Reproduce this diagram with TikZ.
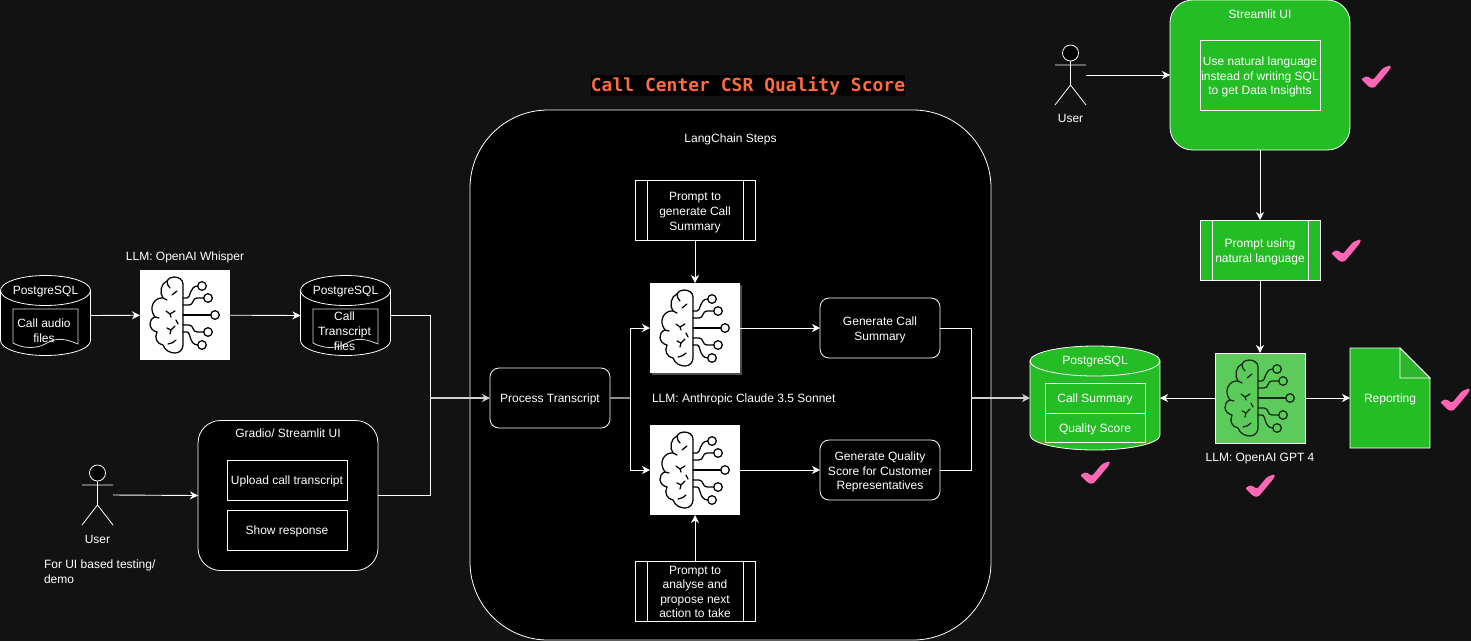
\documentclass[tikz,border=0pt]{standalone}
\usepackage{fontspec}
\setmainfont{Liberation Sans}
\newfontfamily\titlefont{DejaVu Sans Mono}
\usetikzlibrary{calc, arrows.meta, positioning, shadows}
\definecolor{pagebg}{HTML}{121212}
\definecolor{okgreen}{HTML}{25BD25}
\definecolor{okfold}{HTML}{2DB42D}
\definecolor{iconbg}{HTML}{5CCB5C}
\definecolor{tickpink}{HTML}{FF66B5}
\definecolor{titleorange}{HTML}{FF6B3D}
\newcommand{\lift}{\rule{0pt}{13.5pt}}
\newcommand{\drumshape}[3]{%
  \draw[white, line width=0.8pt, fill=#3] ($(#1.north west)+(0,15)$) arc[start angle=180, end angle=360, x radius=#2, y radius=15]
    -- ($(#1.south east)+(0,-15)$) arc[start angle=0, end angle=180, x radius=#2, y radius=15] -- cycle;
  \draw[white, line width=0.8pt] ($(#1.north west)+(0,15)$) arc[start angle=180, end angle=0, x radius=#2, y radius=15];}
\tikzset{
  every node/.style={font=\fontsize{12}{15}\selectfont, text=white, align=center, inner sep=0pt, outer sep=0pt,
    execute at begin node={\rule{0pt}{12pt}}, execute at end node={\rule[-3.4pt]{0pt}{0pt}}},
  flow/.style={draw=white, line width=0.9pt, -{Stealth[length=8pt,width=8pt,inset=2.5pt]}},
  wire/.style={draw=white, line width=0.9pt},
  flowgray/.style={flow, draw=white!82!black, line width=1.2pt},
  plainbox/.style={draw=white, fill=black, line width=0.8pt, minimum width=120pt, minimum height=60pt},
  softbox/.style={plainbox, rounded corners=9pt},
  uibox/.style={draw=white, fill=black, line width=0.8pt, rounded corners=22.5pt, minimum width=180pt, minimum height=150pt},
  promptbox/.style={plainbox, path picture={
    \draw[white, line width=0.8pt] ([xshift=12pt]path picture bounding box.north west) -- ([xshift=12pt]path picture bounding box.south west);
    \draw[white, line width=0.8pt] ([xshift=-12pt]path picture bounding box.north east) -- ([xshift=-12pt]path picture bounding box.south east);}},
  brainbox/.style={fill=white, minimum width=90pt, minimum height=90pt},
  drumbox/.style={minimum width=90pt, minimum height=80pt},
  rowbox/.style={draw=white, fill=okgreen, line width=0.8pt, minimum width=100pt, minimum height=29.5pt},
  actorbox/.style={minimum width=31pt, minimum height=60pt},
  pics/brainicon/.style={code={
    \begin{scope}[line width=1.25pt, line cap=round, line join=round, draw=#1]
      \draw (43,14) .. controls (43,9) and (38,7) .. (34,7) .. controls (31,7) and (29,8) .. (27,11)
        .. controls (21,13) and (19,23) .. (23,28)
        .. controls (14,27) and (8,38) .. (15,47)
        .. controls (8,49) and (8,60) .. (17,62)
        .. controls (14,68) and (17,74) .. (23,75)
        .. controls (25,81) and (31,83) .. (35,83) .. controls (40,83) and (43,79) .. (43,75) -- cycle;
      \draw (27,11) .. controls (27,14) and (28,16) .. (30,18);
      \draw (23,28) -- (27,30);
      \draw (32,25) -- (37,21);
      \draw (26,41) -- (30,44) -- (35,41) (30,44) -- (31,47);
      \draw (36,50) -- (38,54);
      \draw (27,58) -- (31,60) -- (35,56) (31,60) -- (30,64);
      \draw (28,74) .. controls (31,74) and (34,72) .. (36,70);
      \draw (15,47) -- (19,48);
      \draw (43,45) -- (71,45);
      \draw (43,35) -- (49,35) .. controls (54,35) and (52,28) .. (57,28) -- (64,28);
      \draw (43,28) -- (47,28) .. controls (51,28) and (49,16) .. (58,16);
      \draw (43,55) -- (49,55) .. controls (54,55) and (52,62) .. (57,62) -- (64,62);
      \draw (43,62) -- (47,62) .. controls (51,62) and (49,75) .. (58,75);
      \draw (62,16) circle (4.3) (68,28) circle (4.3) (75,45) circle (4.3) (68,62) circle (4.3) (62,75) circle (4.3);
    \end{scope}}},
  pics/actor/.style={code={
    \draw[white, line width=0.8pt, fill=black] (0,-22) circle (8);
    \draw[white, line width=0.8pt] (0,-14) -- (0,10) (-15.5,-10) -- (15.5,-10) (-15.5,30) -- (0,10) -- (15.5,30);}},
  pics/tick/.style={code={
    \fill[tickpink, rounded corners=1.5pt] (-15,3) -- (-9,0) -- (-3,4) -- (7,-8) -- (15,-11) -- (14,-7) -- (5,4) -- (-2,12) -- (-7,11) -- cycle;}}
}
\begin{document}
\begin{tikzpicture}[x=1pt, y=-1pt]
    \fill[pagebg] (0,0) rectangle (1471,641);
    \useasboundingbox (0,0) rectangle (1471,641);

    \node[draw=white, fill=black, line width=0.8pt, rounded corners=78pt, minimum width=521pt, minimum height=530pt] (langchain) at (730.5,375) {};
    \node[below=20.3pt of langchain.north] (langtitle) {LangChain Steps};
    \node[fill=black, text=titleorange, inner xsep=0pt, inner ysep=1pt, text height=15pt, text depth=4pt, font=\titlefont\bfseries\fontsize{18}{20}\selectfont] (title) at (748,85.5) {Call Center CSR Quality Score};

    \node[drumbox] (pgaudio) at (45.5,315.5) {};
    \drumshape{pgaudio}{45}{black}
    \node[below=7.3pt of pgaudio.north] (pgaudiotxt) {PostgreSQL};
    \draw[white!85!black, line width=0.8pt] (13,309) -- (78,309) -- (78,344) .. controls (66,339) and (57,337) .. (47,343) .. controls (37,349) and (24,349) .. (13,343) -- cycle;
    \node (audiotxt) at (44,329.5) {\lift Call audio\\files};

    \node[brainbox] (whisper) at (185,315) {};
    \pic at (whisper.north west) {brainicon=black};
    \node[above=6.3pt of whisper] (whispertxt) {LLM: OpenAI Whisper};

    \node[drumbox] (pgtrans) at (345.5,315.5) {};
    \drumshape{pgtrans}{45}{black}
    \node[below=7.3pt of pgtrans.north] (pgtranstxt) {PostgreSQL};
    \draw[white!85!black, line width=0.8pt] (313,309) -- (378,309) -- (378,344) .. controls (366,339) and (357,337) .. (347,343) .. controls (337,349) and (324,349) .. (313,343) -- cycle;
    \node (transtxt) at (344.5,330) {\lift Call\\Transcript\\files};

    \node[uibox] (gradio) at (288,495.5) {};
    \node[below=5.3pt of gradio.north] (gradiotxt) {Gradio/ Streamlit UI};
    \node[plainbox, minimum height=40pt] (upload) at (287,480) {Upload call transcript};
    \node[plainbox, minimum height=40pt, below=10pt of upload] (showresp) {Show response};

    \node[actorbox] (user) at (97.5,495) {};
    \pic at (user) {actor};
    \node[below=6.3pt of user] (usertxt) {User};
    \node[align=left, anchor=north west, font=\fontsize{12}{14.5}\selectfont] (usernote) at (44,555) {\lift For UI based testing/\\demo};

    \node[softbox] (process) at (550,398) {Process Transcript};
    \node[promptbox] (promptsum) at (695,210) {\lift Prompt to\\generate Call\\Summary};
    \node[brainbox, general shadow={fill=white!30!black, shadow xshift=1.5pt, shadow yshift=-1.5pt}] (claudesum) at (695,328) {};
    \pic at (claudesum.north west) {brainicon=black};
    \node[anchor=west] (claudetxt) at (652,398) {LLM: Anthropic Claude 3.5 Sonnet};
    \node[brainbox] (claudescore) at (695,470) {};
    \pic at (claudescore.north west) {brainicon=black};
    \node[promptbox, font=\fontsize{12}{14.3}\selectfont] (promptact) at (695,591) {\lift Prompt to\\analyse and\\propose next\\action to take};
    \node[softbox] (gensum) at (880,328) {\lift Generate Call\\Summary};
    \node[softbox, font=\fontsize{12}{14.6}\selectfont] (genscore) at (880,470) {\lift Generate Quality\\Score for Customer\\Representatives};

    \node[drumbox, minimum width=130pt, minimum height=104pt] (pgresult) at (1095,398) {};
    \drumshape{pgresult}{65}{okgreen}
    \node[below=6.3pt of pgresult.north] (pgresulttxt) {PostgreSQL};
    \node[rowbox] (sumrow) at (1095,398.5) {Call Summary};
    \node[rowbox, below=0pt of sumrow] (scorerow) {Quality Score};

    \node[brainbox, draw=white, fill=iconbg, line width=0.8pt] (gptfour) at (1260,398) {};
    \pic at (gptfour.north west) {brainicon={black!80!iconbg}};
    \node[below=6.3pt of gptfour] (gpttxt) {LLM: OpenAI GPT 4};

    \node[minimum width=80pt, minimum height=100pt] (reporting) at (1390,398) {};
    \draw[white, fill=okgreen, line width=0.8pt] (reporting.north west) -- ++(50,0) -- ++(30,30) -- (reporting.south east) -- (reporting.south west) -- cycle;
    \draw[white, fill=okfold, line width=0.8pt] ($(reporting.north west)+(50,0)$) -- ++(0,30) -- ++(30,0) -- cycle;
    \node (reportingtxt) at (reporting) {Reporting};

    \node[uibox, fill=okgreen] (streamlit) at (1260,75) {};
    \node[below=6.3pt of streamlit.north] (streamlittxt) {Streamlit UI};
    \node[plainbox, fill=okgreen, minimum height=70pt, font=\fontsize{12}{14.6}\selectfont] (nlbox) at (1260,75) {\lift Use natural language\\instead of writing SQL\\to get Data Insights};
    \node[promptbox, fill=okgreen] (promptnl) at (1260,250) {\lift Prompt using\\natural language};

    \node[actorbox] (usertop) at (1070.5,75) {};
    \pic at (usertop) {actor};
    \node[below=5.3pt of usertop] (usertoptxt) {User};

    \coordinate (joinin) at (430,398);
    \coordinate (fork) at (630,398);
    \coordinate (joinout) at (971,398);

    \draw[flow] (pgaudio.east) -- (whisper);
    \draw[flow] (whisper) -- (pgtrans.west);
    \draw[wire] (pgtrans.east) -| (joinin);
    \draw[flow] (user.east) -- (gradio.west);
    \draw[wire] (gradio.east) -| (joinin);
    \draw[flowgray] (joinin) -- (process);
    \draw[wire, draw=white!55!black, line width=1.2pt] (process.east) -- (fork);
    \draw[flow] (fork) |- (claudesum);
    \draw[flow] (fork) |- (claudescore);
    \draw[flow] (promptsum) -- (claudesum);
    \draw[flow] (promptact) -- (claudescore);
    \draw[flow] (claudesum) -- (gensum);
    \draw[flow] (claudescore) -- (genscore);
    \draw[wire] (gensum.east) -| (joinout);
    \draw[wire] (genscore.east) -| (joinout);
    \draw[flowgray] (joinout) -- (pgresult.west);
    \draw[flow] (gptfour) -- (pgresult.east);
    \draw[flow] (gptfour) -- (reporting);
    \draw[flow] (usertop.east) -- (streamlit.west);
    \draw[flow] (streamlit) -- (promptnl);
    \draw[flow] (promptnl) -- (gptfour);

    \pic at (1376,76) {tick};
    \pic at (1346,250) {tick};
    \pic at (1095,472) {tick};
    \pic at (1260,485) {tick};
    \pic at (1455,399) {tick};
\end{tikzpicture}
\end{document}
